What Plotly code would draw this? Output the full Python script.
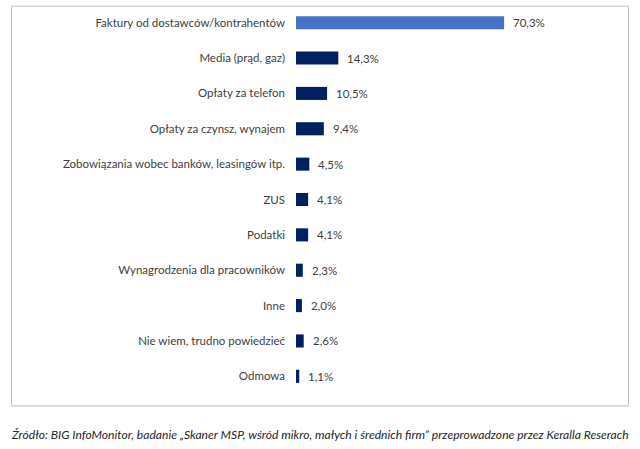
import plotly.graph_objects as go

categories = [
    "Faktury od dostawców/kontrahentów",
    "Media (prąd, gaz)",
    "Opłaty za telefon",
    "Opłaty za czynsz, wynajem",
    "Zobowiązania wobec banków, leasingów itp.",
    "ZUS",
    "Podatki",
    "Wynagrodzenia dla pracowników",
    "Inne",
    "Nie wiem, trudno powiedzieć",
    "Odmowa",
]
values = [70.3, 14.3, 10.5, 9.4, 4.5, 4.1, 4.1, 2.3, 2.0, 2.6, 1.1]
value_labels = [f"{v:.1f}".replace(".", ",") + "%" for v in values]
caption = ("Źródło: BIG InfoMonitor, badanie „Skaner MSP, wśród mikro, małych i średnich firm” "
           "przeprowadzone przez Keralla Reserach")

W, H = 640, 449
PL, PR = 296, 592          # plot area left/right px
PT, PB = 5.35, 393.6       # plot area top/bottom px

def px_x(px):
    return (px - PL) / (PR - PL)

def px_y(py):
    return 1 - (py - PT) / (PB - PT)

FONT = "Lato, 'Open Sans', sans-serif"
colors = ["#4472C4"] + ["#002060"] * (len(values) - 1)

fig = go.Figure(go.Bar(
    y=categories,
    x=values,
    orientation="h",
    marker=dict(color=colors, line=dict(width=0)),
    width=0.37,
    hoverinfo="skip",
))

for c, v, t in zip(categories, values, value_labels):
    fig.add_annotation(x=v, y=c, text=t, xanchor="left", xshift=7, showarrow=False,
                       font=dict(family=FONT, size=11.5, color="#404040"))

fig.add_shape(type="rect", xref="paper", yref="paper",
              x0=px_x(11.5), x1=px_x(628.5), y0=px_y(405.5), y1=px_y(6.5),
              line=dict(color="#BFBFBF", width=1), fillcolor="rgba(0,0,0,0)", layer="above")

fig.add_annotation(xref="paper", yref="paper", x=px_x(320), y=px_y(434),
                   text="<i>" + caption + "</i>", showarrow=False,
                   xanchor="center", yanchor="middle",
                   font=dict(family=FONT, size=12.1, color="#262626"))

fig.update_layout(
    width=W, height=H,
    margin=dict(l=PL, r=W - PR, t=PT, b=H - PB, pad=0),
    paper_bgcolor="white", plot_bgcolor="rgba(0,0,0,0)",
    showlegend=False,
    font=dict(family=FONT, size=11.5, color="#404040"),
    xaxis=dict(range=[0, 100], visible=False, fixedrange=True),
    yaxis=dict(autorange="reversed", showgrid=False, zeroline=False, showline=False,
               fixedrange=True,
               ticks="", ticklabelstandoff=10, tickfont=dict(family=FONT, size=11.5, color="#404040")),
)

fig.write_html("out.html", config={"displayModeBar": False},
               post_script="document.body.style.margin='0';")
